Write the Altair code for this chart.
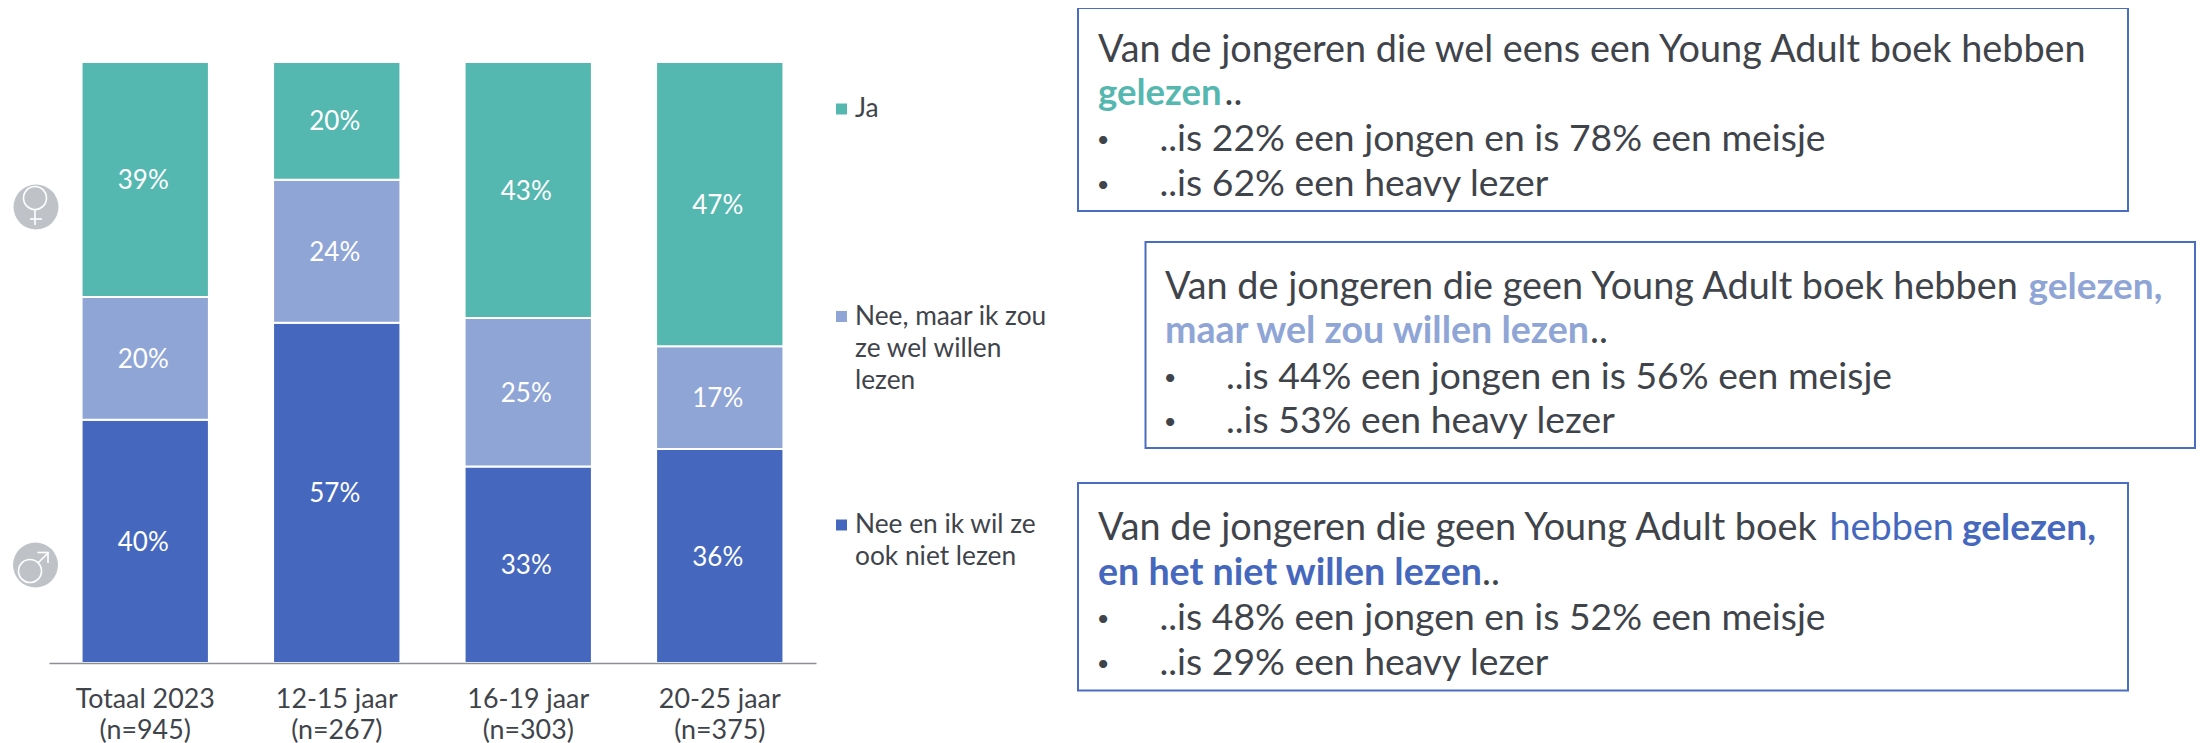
import altair as alt
import pandas as pd

categories = ["Totaal 2023\n(n=945)", "12-15 jaar\n(n=267)", "16-19 jaar\n(n=303)", "20-25 jaar\n(n=375)"]
series = ["Nee en ik wil ze ook niet lezen", "Nee, maar ik zou ze wel willen lezen", "Ja"]
nee = [40.49, 56.6, 32.7, 35.6]
nee_maar = [20.4, 23.8, 24.7, 17.1]
ja = [39.11, 19.6, 42.6, 47.3]
colors = ["#4568BE", "#8FA5D6", "#55B8B0"]
TEXT = "#3F444B"
FONT = "Lato"

legend_lines = [["Ja"], ["Nee, maar ik zou", "ze wel willen", "lezen"], ["Nee en ik wil ze", "ook niet lezen"]]

rows = []
for i, c in enumerate(categories):
    for j, vals in enumerate([nee, nee_maar, ja]):
        rows.append({"cat": c, "series": series[j], "order": j, "value": vals[i]})
df = pd.DataFrame(rows)

def sx(x):
    return x - 49
def sy(y):
    return y - 62

one = pd.DataFrame({"a": [0]})
base = alt.Chart(df).transform_stack(
    stack="value", as_=["y0", "y1"], groupby=["cat"], sort=[alt.SortField("order", order="ascending")]
).transform_calculate(mid="(datum.y0 + datum.y1) / 2", lab="format(datum.value, '.0f') + '%'")

x_enc = alt.X("cat:N", sort=categories, title=None,
              scale=alt.Scale(paddingInner=0.335, paddingOuter=0.17),
              axis=alt.Axis(labelExpr="split(datum.label, '\\n')", labelAngle=0, labelFont=FONT, labelFontSize=26.8,
                            labelColor=TEXT, labelLineHeight=31, labelPadding=23, ticks=False,
                            domainColor="#8A8F94", domainWidth=1.5, grid=False, zindex=1))
y_scale = alt.Scale(domain=[0, 100], nice=False)

bars = base.mark_bar(stroke="white", strokeWidth=2).encode(
    x=x_enc,
    y=alt.Y("y0:Q", scale=y_scale, axis=None),
    y2="y1:Q",
    color=alt.Color("series:N", scale=alt.Scale(domain=series, range=colors), legend=None),
)
labels = base.mark_text(font=FONT, fontSize=26, color="white", dx=-2, dy=1.5).encode(
    x=alt.X("cat:N", sort=categories),
    y=alt.Y("mid:Q", scale=y_scale),
    text="lab:N",
)

layers = [bars, labels]

def txt(s, x, y, size=26.3, color=TEXT, weight="normal", font=FONT, align="left"):
    return alt.Chart(one).mark_text(font=font, fontSize=size, color=color, fontWeight=weight, align=align,
                                    baseline="middle").encode(
        x=alt.value(sx(x)), y=alt.value(sy(y)), text=alt.value(s))

def rule(x1, y1, x2, y2, color="white", w=1.6):
    return alt.Chart(one).mark_rule(color=color, strokeWidth=w).encode(
        x=alt.value(sx(x1)), x2=alt.value(sx(x2)), y=alt.value(sy(y1)), y2=alt.value(sy(y2)))

# legend
legend_y = [109, 316.5, 525]
for k, lines in enumerate(legend_lines):
    idx = 2 - k
    layers.append(alt.Chart(one).mark_square(size=121, color=colors[idx], opacity=1).encode(
        x=alt.value(sx(841.5)), y=alt.value(sy(legend_y[k]))))
    for m, line in enumerate(lines):
        layers.append(txt(line, 855, legend_y[k] + m * 32))

# gender icons
GREY = "#BFC3C8"
layers.append(alt.Chart(one).mark_circle(size=2025, color=GREY, opacity=1).encode(x=alt.value(sx(36)), y=alt.value(sy(207))))
layers.append(alt.Chart(one).mark_circle(size=2025, color=GREY, opacity=1).encode(x=alt.value(sx(35.5)), y=alt.value(sy(565))))
layers.append(alt.Chart(one).mark_point(size=530, color="white", filled=False, strokeWidth=1.6, opacity=1).encode(x=alt.value(sx(35)), y=alt.value(sy(198))))
layers.append(rule(35, 209.5, 35, 225))
layers.append(rule(30, 219, 42, 219))
layers.append(alt.Chart(one).mark_point(size=530, color="white", filled=False, strokeWidth=1.6, opacity=1).encode(x=alt.value(sx(30)), y=alt.value(sy(571))))
layers.append(rule(38, 563, 48, 553))
layers.append(rule(37.5, 552.5, 48.5, 552.5))
layers.append(rule(48, 552, 48, 563))

# text boxes
BOX = "#4A6CC2"
FS = 37.8
FL = 37.3
FB = 36.5
FC = 37.6
BU = 22
boxes = [
    (1078, 8, 2128, 211),
    (1145.5, 242, 2195, 448),
    (1078, 483, 2128, 690.5),
]
for x1, y1, x2, y2 in boxes:
    layers.append(alt.Chart(one).mark_rect(fillOpacity=0, stroke=BOX, strokeWidth=2, color="white").encode(
        x=alt.value(sx(x1)), x2=alt.value(sx(x2)), y=alt.value(sy(y1)), y2=alt.value(sy(y2))))

# box 1
layers += [
    txt("Van de jongeren die wel eens een Young Adult boek hebben", 1098, 50.5, FS),
    txt("gelezen", 1098, 94, FB, colors[2], "bold"),
    txt("..", 1224.5, 94, FS),
    txt("•", 1103, 139.5, BU, align="center"), txt("..is 22% een jongen en is 78% een meisje", 1159.5, 139.5, FL),
    txt("•", 1103, 184.5, BU, align="center"), txt("..is 62% een heavy lezer", 1159.5, 184.5, FL),
]
# box 2
layers += [
    txt("Van de jongeren die geen Young Adult boek hebben", 1165, 287.5, FS),
    txt("gelezen,", 2028.5, 287.5, 37, colors[1], "bold"),
    txt("maar wel zou willen lezen", 1165, 332, FC, colors[1], "bold"),
    txt("..", 1590, 332, FS),
    txt("•", 1170, 377.5, BU, align="center"), txt("..is 44% een jongen en is 56% een meisje", 1226, 377.5, FL),
    txt("•", 1170, 422, BU, align="center"), txt("..is 53% een heavy lezer", 1226, 422, FL),
]
# box 3
layers += [
    txt("Van de jongeren die geen Young Adult boek", 1098, 529, FS),
    txt("hebben", 1829.5, 529, FS, colors[0]),
    txt("gelezen,", 1962, 529, 37, colors[0], "bold"),
    txt("en het niet willen lezen", 1098, 573.5, FC, colors[0], "bold"),
    txt("..", 1482, 573.5, FS),
    txt("•", 1103, 619, BU, align="center"), txt("..is 48% een jongen en is 52% een meisje", 1159.5, 619, FL),
    txt("•", 1103, 663.5, BU, align="center"), txt("..is 29% een heavy lezer", 1159.5, 663.5, FL),
]

chart = alt.layer(*layers).properties(
    width=767, height=601,
    autosize=alt.AutoSizeParams(type="none"),
    padding={"left": 41, "top": 54, "right": 1382, "bottom": 80},
    background="white",
).configure_view(stroke=None)

chart.save("out.html", embed_options={"renderer": "svg", "actions": False})
